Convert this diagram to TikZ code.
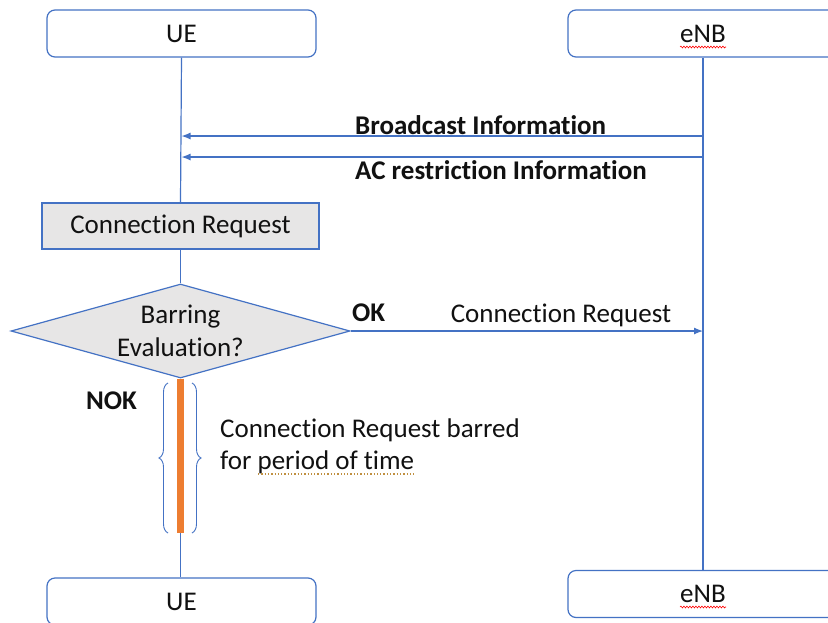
\documentclass[tikz,border=0pt]{standalone}
\usepackage{fontspec}
\setmainfont{Carlito}[Ligatures=NoCommon]
\usetikzlibrary{shapes.geometric,arrows.meta,decorations.pathreplacing,decorations.pathmorphing}
\definecolor{lblue}{HTML}{4472C4}
\definecolor{lorange}{HTML}{ED7D31}
\definecolor{lgray}{HTML}{E7E6E6}
\definecolor{txt}{HTML}{111111}
\definecolor{dotc}{HTML}{C09040}
\begin{document}
\begin{tikzpicture}[x=1pt,y=-1pt,
  every node/.style={text=txt, font=\fontsize{27}{32.5}\selectfont},
  entity/.style={draw=lblue, line width=1.2pt, rounded corners=8pt, minimum width=269pt, minimum height=47pt, inner sep=0pt},
  actbox/.style={draw=lblue, fill=lgray, line width=1.2pt, minimum width=277pt, minimum height=46pt, inner sep=0pt},
  life/.style={draw=lblue, line width=1.2pt},
  msg/.style={draw=lblue, line width=1.2pt, -{Latex[length=9pt,width=7pt]}},
  lbl/.style={inner sep=0pt, anchor=west, font=\fontsize{27}{32.5}\selectfont\bfseries},
  bracey/.style={draw=lblue, line width=0.9pt, decorate, decoration={brace, amplitude=9pt}},
  spell/.style={draw=red, line width=0.6pt, decorate, decoration={snake, amplitude=0.9pt, segment length=3pt}}
]
\useasboundingbox (0,0) rectangle (828,622);
\fill[white] (0,0) rectangle (828,622);

% entities
\node[entity] (ue1) at (181.5,33.5) {UE};
\node[entity, minimum width=270pt] (enb1) at (703,33.5) {eNB};
\node[entity] (ue2) at (181.5,601.5) {UE};
\node[entity, minimum width=270pt] (enb2) at (703,594) {eNB};

% activity box and decision
\node[actbox] (cr) at (180.5,226) {Connection Request};
\node[diamond, draw=lblue, fill=lgray, line width=1.2pt, minimum width=339pt, minimum height=94pt, inner sep=0pt] (dia) at (180.5,331) {};
\node[align=center, inner sep=0pt] (diatext) at (dia.center) {Barring\\Evaluation?};

% lifelines
\draw[life] (ue1.south) -- (cr.north);
\draw[life] (cr.south) -- (dia.north);
\coordinate (barbot) at (180.5,533);
\draw[life] (barbot) -- (barbot |- ue2.north);
\draw[life] (enb1.south) -- (enb2.north);

% messages
\draw[msg] (enb1.south |- 0,136) -- (ue1.south |- 0,136);
\draw[msg] (enb1.south |- 0,157) -- (ue1.south |- 0,157);
\node[lbl] (m1) at (355,125) {Broadcast Information};
\node[lbl] (m2) at (355,170) {AC restriction Information};

\draw[msg] (dia.east) -- (dia.east -| enb1.south);
\node[lbl] (ok) at (352,313) {OK};
\node (m3) at (561,315) {Connection Request};

% NOK branch
\node[lbl] (nok) at (86,401) {NOK};
\draw[lorange, line width=7pt] (dia.south) -- (barbot);
\draw[bracey] (168,533) -- (168,383);
\draw[bracey] (192,383) -- (192,533);
\node[anchor=west, align=left, inner sep=0pt] (barred) at (220,446.5) {Connection Request barred\\for period of time};
\draw[dotc, dotted, line width=1.3pt] (258,474) -- (416,474);

% spell-check marks
\draw[spell] (680,47) -- (726,47);
\draw[spell] (680,607) -- (726,607);
\end{tikzpicture}
\end{document}
